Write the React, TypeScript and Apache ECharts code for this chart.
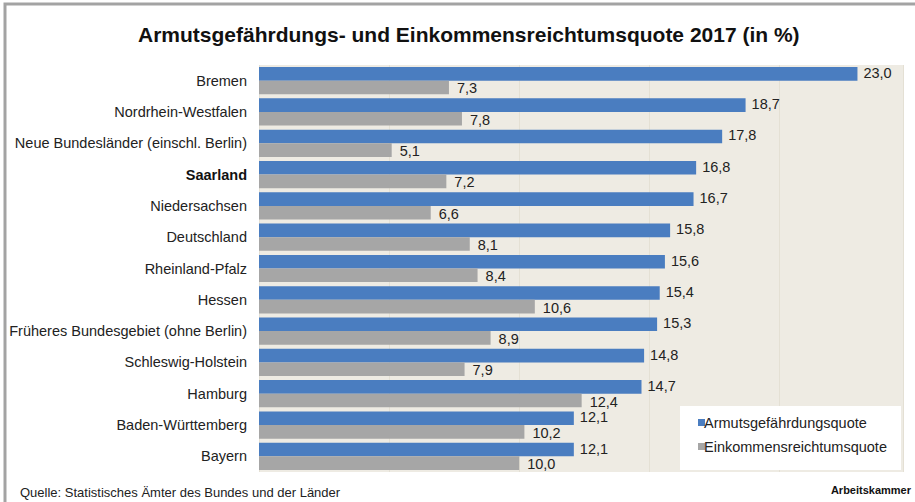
import React, { useEffect, useRef } from "react";
import * as echarts from "echarts";

const categories = [
  "Bremen",
  "Nordrhein-Westfalen",
  "Neue Bundesländer (einschl. Berlin)",
  "Saarland",
  "Niedersachsen",
  "Deutschland",
  "Rheinland-Pfalz",
  "Hessen",
  "Früheres Bundesgebiet (ohne Berlin)",
  "Schleswig-Holstein",
  "Hamburg",
  "Baden-Württemberg",
  "Bayern",
];
const armutsquote = [23.0, 18.7, 17.8, 16.8, 16.7, 15.8, 15.6, 15.4, 15.3, 14.8, 14.7, 12.1, 12.1];
const reichtumsquote = [7.3, 7.8, 5.1, 7.2, 6.6, 8.1, 8.4, 10.6, 8.9, 7.9, 12.4, 10.2, 10.0];
const seriesNames = ["Armutsgefährdungsquote", "Einkommensreichtumsquote"];
const highlighted = "Saarland";

const FONT = "'Liberation Sans', Arial, sans-serif";
const fmt = (v: number) => v.toFixed(1).replace(".", ",");

export default function App() {
  const ref = useRef<HTMLDivElement>(null);
  useEffect(() => {
    if (!ref.current) return;
    const chart = echarts.init(ref.current, null, { renderer: "svg" });
    chart.setOption({
      animation: false,
      backgroundColor: "#ffffff",
      textStyle: { fontFamily: FONT },
      title: {
        text: "Armutsgefährdungs- und Einkommensreichtumsquote 2017 (in %)",
        left: 133,
        top: 19,
        textStyle: { fontFamily: FONT, fontSize: 21, fontWeight: "bold", color: "#111" },
      },
      grid: {
        left: 259,
        top: 65,
        width: 644,
        height: 407,
        show: true,
        backgroundColor: "#EEEBE3",
        borderWidth: 0,
      },
      xAxis: {
        type: "value",
        min: 0,
        max: 24.75,
        interval: 5,
        axisLabel: { show: false },
        axisLine: { show: false },
        axisTick: { show: false },
        splitLine: { show: true, lineStyle: { color: "#E4E0D4", width: 1 } },
      },
      yAxis: {
        type: "category",
        data: categories,
        inverse: true,
        axisLine: { show: false },
        axisTick: { show: false },
        axisLabel: {
          margin: 12,
          fontSize: 14.5,
          color: "#222",
          fontFamily: FONT,
          formatter: (v: string) => (v === highlighted ? `{b|${v}}` : v),
          rich: { b: { fontWeight: "bold", fontSize: 14.5, color: "#111", fontFamily: FONT } },
        },
      },
      legend: {
        orient: "vertical",
        left: 693,
        top: 410,
        itemWidth: 7,
        itemHeight: 7,
        itemGap: 9,
        icon: "rect",
        z: 10,
        textStyle: { fontSize: 14.5, color: "#222", fontFamily: FONT, padding: [0, 0, 0, -6] },
        data: seriesNames,
      },
      graphic: [
        {
          type: "rect",
          z: 5,
          shape: { x: 680, y: 406, width: 221, height: 64 },
          style: { fill: "#ffffff" },
        },
        {
          type: "rect",
          z: 100,
          shape: { x: 5, y: 4, width: 930, height: 520 },
          style: { fill: "none", stroke: "#A3A3A3", lineWidth: 3 },
        },
        {
          type: "text",
          left: 20,
          top: 486,
          style: {
            text: "Quelle: Statistisches Ämter des Bundes und der Länder",
            fontSize: 13,
            fill: "#222",
            fontFamily: FONT,
          },
        },
        {
          type: "text",
          right: 4,
          top: 484,
          style: {
            text: "Arbeitskammer",
            fontSize: 11,
            fontWeight: "bold",
            fill: "#111",
            fontFamily: FONT,
          },
        },
      ],
      series: [
        {
          name: seriesNames[0],
          type: "bar",
          data: armutsquote,
          barGap: "0%",
          barCategoryGap: "13%",
          itemStyle: { color: "#4A7DC0" },
          label: {
            show: true,
            position: "right",
            distance: 6,
            offset: [0, -1],
            fontSize: 14.5,
            color: "#222",
            fontFamily: FONT,
            formatter: (p: any) => fmt(p.value),
          },
        },
        {
          name: seriesNames[1],
          type: "bar",
          data: reichtumsquote,
          barGap: "0%",
          barCategoryGap: "13%",
          itemStyle: { color: "#A6A6A6" },
          label: {
            show: true,
            position: "right",
            distance: 8,
            offset: [0, 1],
            fontSize: 14.5,
            color: "#222",
            fontFamily: FONT,
            formatter: (p: any) => fmt(p.value),
          },
        },
      ],
    });
    return () => chart.dispose();
  }, []);
  return (
    <div
      ref={ref}
      style={{ position: "fixed", left: 0, top: 0, width: 915, height: 502 }}
    />
  );
}
